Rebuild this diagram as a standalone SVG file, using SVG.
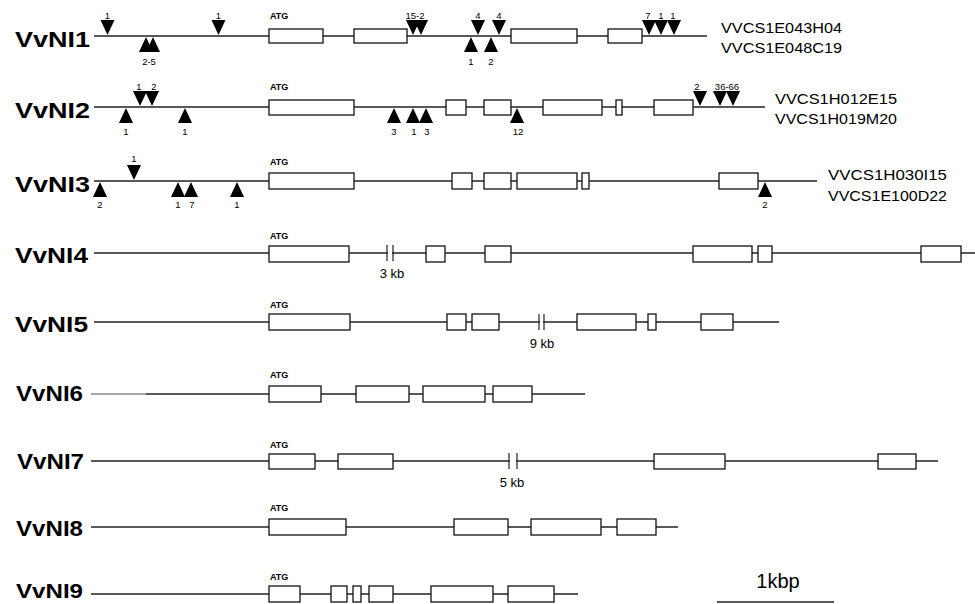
<svg xmlns="http://www.w3.org/2000/svg" xmlns:xlink="http://www.w3.org/1999/xlink" width="975" height="604" viewBox="0 0 975 604">
<style>
.bg{fill:#fff}
.ln{stroke:#222;stroke-width:1.4;fill:none}
.lg{stroke:#888;stroke-width:1.4;fill:none}
.ex{fill:#fff;stroke:#111;stroke-width:1.3}
.nm{font-family:"Liberation Sans",Arial,sans-serif;font-weight:bold;font-size:22px;fill:#000}
.atg{font-family:"Liberation Sans",Arial,sans-serif;font-weight:bold;font-size:9px;fill:#000}
.n{font-family:"Liberation Sans",Arial,sans-serif;font-size:9.5px;fill:#000;text-anchor:middle}
.bac{font-family:"Liberation Sans",Arial,sans-serif;font-size:15.5px;fill:#000}
.kb{font-family:"Liberation Sans",Arial,sans-serif;font-size:13px;fill:#000;text-anchor:middle}
.brk{stroke:#222;stroke-width:1.2}
.tri{fill:#000}
</style>
<defs>
<path id="dn" d="M-7,-15 L7,-15 L0,0 Z" class="tri"/>
<path id="up" d="M-7,15 L7,15 L0,0 Z" class="tri"/>
</defs>
<rect class="bg" x="0" y="0" width="975" height="604"/>

<g id="connectors">
<line class="ln" x1="94" y1="36" x2="707" y2="36"/>
<line class="ln" x1="94" y1="107" x2="765" y2="107"/>
<line class="ln" x1="94" y1="181" x2="817" y2="181"/>
<line class="ln" x1="94" y1="253" x2="975" y2="253"/>
<line class="ln" x1="94" y1="322" x2="779" y2="322"/>
<line class="lg" x1="91" y1="394" x2="146" y2="394"/>
<line class="ln" x1="146" y1="394" x2="585" y2="394"/>
<line class="ln" x1="91" y1="461" x2="938" y2="461"/>
<line class="ln" x1="91" y1="527" x2="678" y2="527"/>
<line class="ln" x1="91" y1="594" x2="578" y2="594"/>
</g>

<g id="VvNI1">
<text class="nm" x="15" y="47" textLength="75" lengthAdjust="spacingAndGlyphs">VvNI1</text>
<text class="atg" x="270" y="19">ATG</text>
<rect class="ex" x="269" y="29" width="54" height="14"/>
<rect class="ex" x="354" y="29" width="53" height="14"/>
<rect class="ex" x="511" y="29" width="66" height="14"/>
<rect class="ex" x="608" y="29" width="34" height="14"/>
<use href="#dn" x="107.5" y="35"/><text class="n" x="107.5" y="19">1</text>
<use href="#dn" x="218.5" y="35"/><text class="n" x="218.5" y="19">1</text>
<use href="#dn" x="413" y="35"/><use href="#dn" x="421" y="35"/><text class="n" x="415" y="19">15-2</text>
<use href="#dn" x="478" y="35"/><text class="n" x="478" y="19">4</text>
<use href="#dn" x="499" y="35"/><text class="n" x="499" y="19">4</text>
<use href="#dn" x="649" y="35"/><text class="n" x="648" y="19">7</text>
<use href="#dn" x="661" y="35"/><text class="n" x="661" y="19">1</text>
<use href="#dn" x="674" y="35"/><text class="n" x="673" y="19">1</text>
<use href="#up" x="146" y="37"/><use href="#up" x="153" y="37"/><text class="n" x="149" y="65">2-5</text>
<use href="#up" x="471" y="37"/><text class="n" x="471" y="65">1</text>
<use href="#up" x="491" y="37"/><text class="n" x="491" y="65">2</text>
<text class="bac" x="721" y="33" textLength="121" lengthAdjust="spacingAndGlyphs">VVCS1E043H04</text>
<text class="bac" x="721" y="53" textLength="121" lengthAdjust="spacingAndGlyphs">VVCS1E048C19</text>
</g>

<g id="VvNI2">
<text class="nm" x="15" y="118" textLength="75" lengthAdjust="spacingAndGlyphs">VvNI2</text>
<text class="atg" x="270" y="90">ATG</text>
<rect class="ex" x="269" y="100" width="85" height="15"/>
<rect class="ex" x="446" y="100" width="20" height="15"/>
<rect class="ex" x="484" y="100" width="27" height="15"/>
<rect class="ex" x="543" y="100" width="59" height="15"/>
<rect class="ex" x="616" y="100" width="6" height="15"/>
<rect class="ex" x="654" y="100" width="39" height="15"/>
<use href="#dn" x="140" y="106"/><text class="n" x="139" y="90">1</text>
<use href="#dn" x="152" y="106"/><text class="n" x="154" y="90">2</text>
<use href="#dn" x="700" y="106"/><text class="n" x="697" y="90">2</text>
<use href="#dn" x="720" y="106"/><use href="#dn" x="733" y="106"/><text class="n" x="727" y="90">36-66</text>
<use href="#up" x="126" y="108"/><text class="n" x="126" y="135">1</text>
<use href="#up" x="185" y="108"/><text class="n" x="185" y="135">1</text>
<use href="#up" x="394" y="108"/><text class="n" x="394" y="135">3</text>
<use href="#up" x="413" y="108"/><text class="n" x="414" y="135">1</text>
<use href="#up" x="426" y="108"/><text class="n" x="427" y="135">3</text>
<use href="#up" x="517" y="108"/><text class="n" x="518" y="135">12</text>
<text class="bac" x="775" y="104" textLength="122" lengthAdjust="spacingAndGlyphs">VVCS1H012E15</text>
<text class="bac" x="775" y="124" textLength="122" lengthAdjust="spacingAndGlyphs">VVCS1H019M20</text>
</g>

<g id="VvNI3">
<text class="nm" x="15" y="192" textLength="75" lengthAdjust="spacingAndGlyphs">VvNI3</text>
<text class="atg" x="270" y="165">ATG</text>
<rect class="ex" x="269" y="173" width="85" height="16"/>
<rect class="ex" x="452" y="173" width="20" height="16"/>
<rect class="ex" x="484" y="173" width="27" height="16"/>
<rect class="ex" x="517" y="173" width="60" height="16"/>
<rect class="ex" x="582" y="173" width="7" height="16"/>
<rect class="ex" x="719" y="173" width="39" height="16"/>
<use href="#dn" x="134" y="180"/><text class="n" x="134" y="162">1</text>
<use href="#up" x="100" y="182"/><text class="n" x="100" y="208">2</text>
<use href="#up" x="178" y="182"/><text class="n" x="178" y="208">1</text>
<use href="#up" x="191" y="182"/><text class="n" x="192" y="208">7</text>
<use href="#up" x="237" y="182"/><text class="n" x="237" y="208">1</text>
<use href="#up" x="765" y="182"/><text class="n" x="765" y="208">2</text>
<text class="bac" x="828" y="180" textLength="119" lengthAdjust="spacingAndGlyphs">VVCS1H030I15</text>
<text class="bac" x="828" y="201" textLength="119" lengthAdjust="spacingAndGlyphs">VVCS1E100D22</text>
</g>

<g id="VvNI4">
<text class="nm" x="15" y="263" textLength="73" lengthAdjust="spacingAndGlyphs">VvNI4</text>
<text class="atg" x="270" y="239">ATG</text>
<rect class="ex" x="269" y="246" width="80" height="16"/>
<rect class="ex" x="426" y="246" width="19" height="16"/>
<rect class="ex" x="485" y="246" width="26" height="16"/>
<rect class="ex" x="693" y="246" width="59" height="16"/>
<rect class="ex" x="758" y="246" width="14" height="16"/>
<rect class="ex" x="921" y="246" width="40" height="16"/>
<rect x="388" y="250" width="4" height="6" fill="#fff"/>
<line class="brk" x1="387" y1="245" x2="387" y2="261"/>
<line class="brk" x1="393" y1="245" x2="393" y2="261"/>
<text class="kb" x="392" y="278">3 kb</text>
</g>

<g id="VvNI5">
<text class="nm" x="15" y="332" textLength="73" lengthAdjust="spacingAndGlyphs">VvNI5</text>
<text class="atg" x="270" y="308">ATG</text>
<rect class="ex" x="269" y="314" width="81" height="16"/>
<rect class="ex" x="447" y="314" width="19" height="16"/>
<rect class="ex" x="472" y="314" width="27" height="16"/>
<rect class="ex" x="577" y="314" width="59" height="16"/>
<rect class="ex" x="648" y="314" width="8" height="16"/>
<rect class="ex" x="701" y="314" width="32" height="16"/>
<rect x="540" y="319" width="3" height="6" fill="#fff"/>
<line class="brk" x1="539" y1="314" x2="539" y2="330"/>
<line class="brk" x1="544" y1="314" x2="544" y2="330"/>
<text class="kb" x="542" y="348">9 kb</text>
</g>

<g id="VvNI6">
<text class="nm" x="16" y="401" textLength="67" lengthAdjust="spacingAndGlyphs">VvNI6</text>
<text class="atg" x="270" y="378">ATG</text>
<rect class="ex" x="269" y="386" width="52" height="16"/>
<rect class="ex" x="356" y="386" width="53" height="16"/>
<rect class="ex" x="423" y="386" width="62" height="16"/>
<rect class="ex" x="493" y="386" width="39" height="16"/>
</g>

<g id="VvNI7">
<text class="nm" x="17" y="469" textLength="67" lengthAdjust="spacingAndGlyphs">VvNI7</text>
<text class="atg" x="270" y="448">ATG</text>
<rect class="ex" x="269" y="454" width="46" height="15"/>
<rect class="ex" x="338" y="454" width="55" height="15"/>
<rect class="ex" x="654" y="454" width="71" height="15"/>
<rect class="ex" x="878" y="454" width="38" height="15"/>
<rect x="510" y="458" width="6" height="6" fill="#fff"/>
<line class="brk" x1="509" y1="453" x2="509" y2="469"/>
<line class="brk" x1="517" y1="453" x2="517" y2="469"/>
<text class="kb" x="512" y="487">5 kb</text>
</g>

<g id="VvNI8">
<text class="nm" x="16" y="536" textLength="67" lengthAdjust="spacingAndGlyphs">VvNI8</text>
<text class="atg" x="270" y="511">ATG</text>
<rect class="ex" x="269" y="519" width="77" height="16"/>
<rect class="ex" x="454" y="519" width="54" height="16"/>
<rect class="ex" x="531" y="519" width="70" height="16"/>
<rect class="ex" x="617" y="519" width="39" height="16"/>
</g>

<g id="VvNI9">
<text class="nm" x="16" y="598" font-size="20" style="font-size:20px" textLength="67" lengthAdjust="spacingAndGlyphs">VvNI9</text>
<text class="atg" x="270" y="580">ATG</text>
<rect class="ex" x="269" y="586" width="31" height="16"/>
<rect class="ex" x="331" y="586" width="16" height="16"/>
<rect class="ex" x="353" y="586" width="8" height="16"/>
<rect class="ex" x="369" y="586" width="24" height="16"/>
<rect class="ex" x="431" y="586" width="62" height="16"/>
<rect class="ex" x="508" y="586" width="46" height="16"/>
</g>

<g id="scale">
<line class="ln" x1="717" y1="602" x2="834" y2="602"/>
<text x="778" y="588" text-anchor="middle" font-family="'Liberation Sans',Arial,sans-serif" font-size="20">1kbp</text>
</g>
</svg>
